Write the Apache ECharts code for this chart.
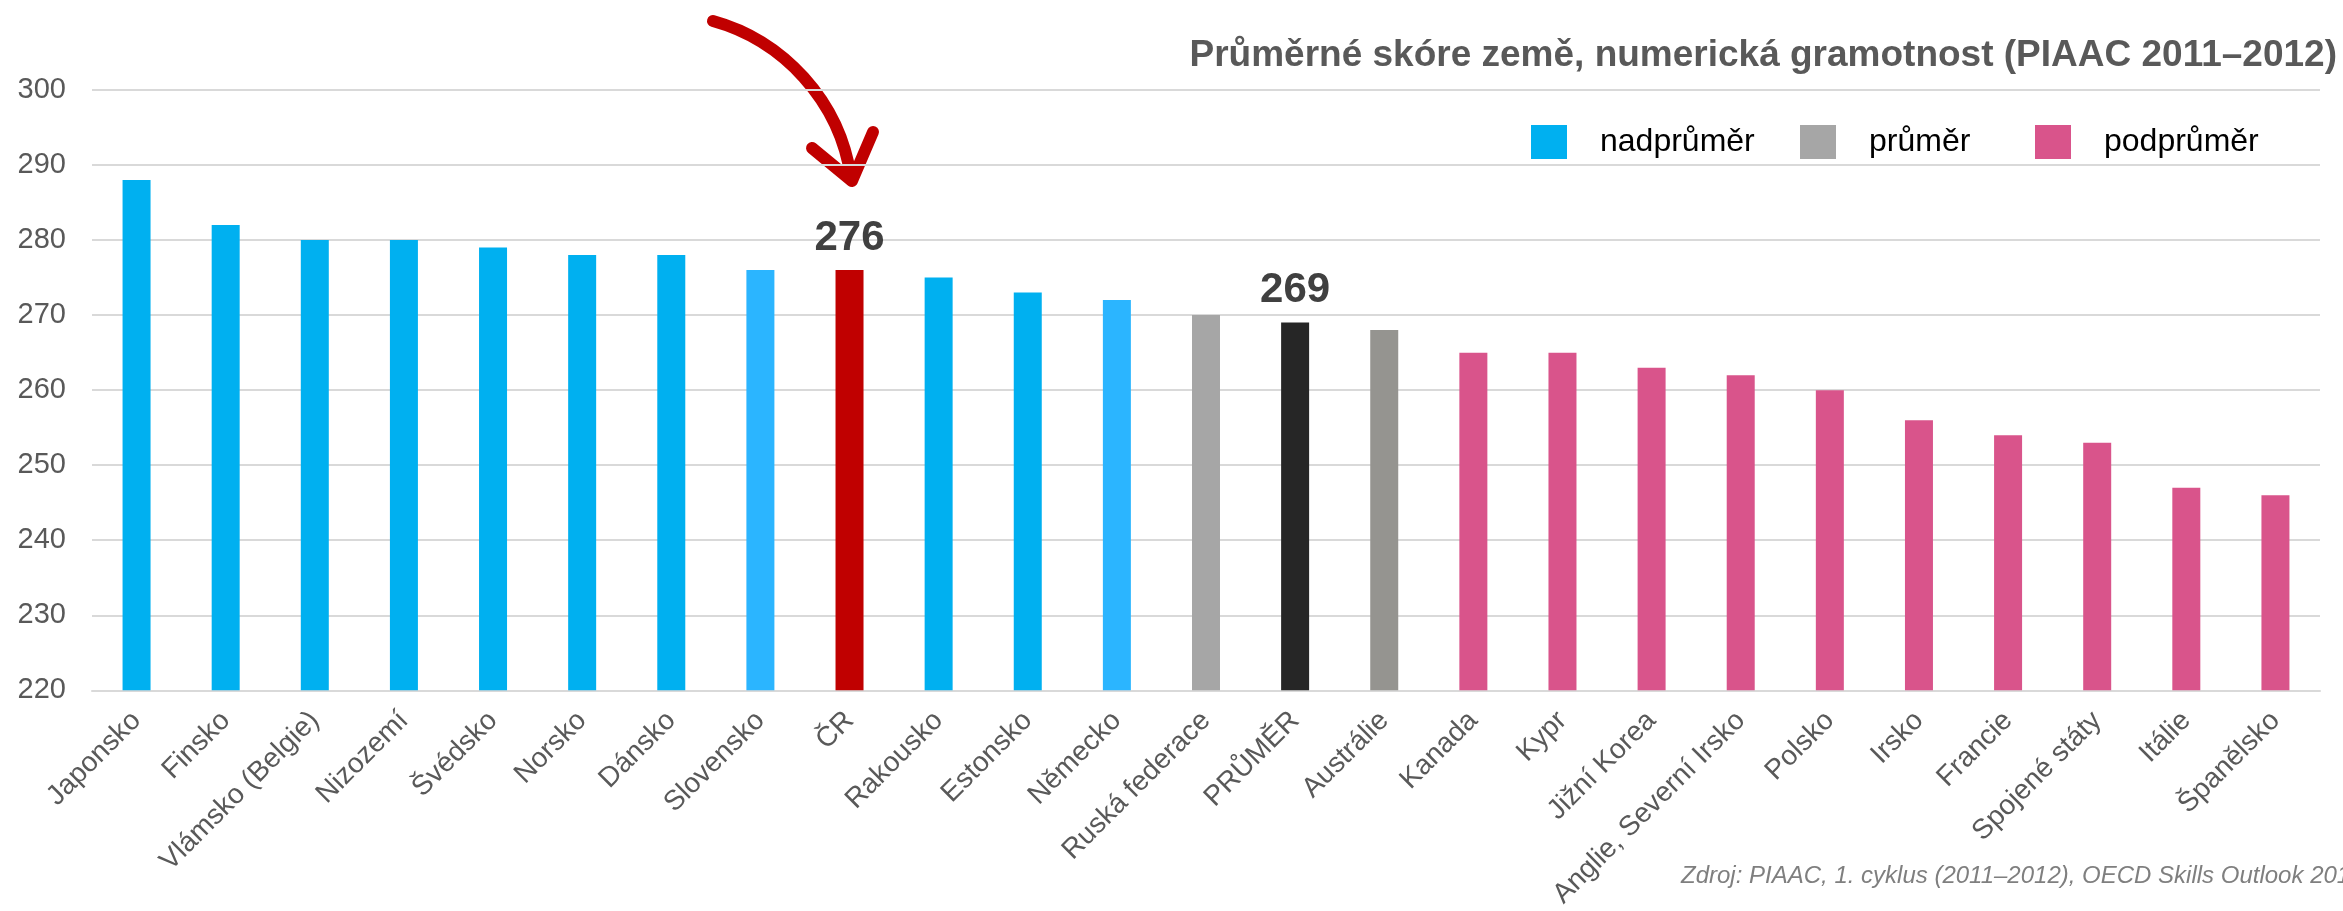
<!DOCTYPE html>
<html>
<head>
<meta charset="utf-8">
<script src="https://cdn.jsdelivr.net/npm/echarts@6/dist/echarts.min.js"></script>
<style>
  html, body { margin: 0; padding: 0; background: #fff; }
  #chart { width: 2343px; height: 911px; }
</style>
</head>
<body>
<div id="chart"></div>
<script>
const countries = [
  "Japonsko", "Finsko", "Vlámsko (Belgie)", "Nizozemí", "Švédsko", "Norsko",
  "Dánsko", "Slovensko", "ČR", "Rakousko", "Estonsko", "Německo",
  "Ruská federace", "PRŮMĚR", "Austrálie", "Kanada", "Kypr", "Jižní Korea",
  "Anglie, Severní Irsko", "Polsko", "Irsko", "Francie", "Spojené státy",
  "Itálie", "Španělsko"
];
const scores = [
  288, 282, 280, 280, 279, 278, 278, 276, 276, 275, 273, 272,
  270, 269, 268, 265, 265, 263, 262, 260, 256, 254, 253, 247, 246
];
// 0 = nadprůměr, 1 = průměr, 2 = podprůměr
const groups = [
  0, 0, 0, 0, 0, 0, 0, 0, 0, 0, 0, 0,
  1, 1, 1, 2, 2, 2, 2, 2, 2, 2, 2, 2, 2
];
const groupNames = ["nadprůměr", "průměr", "podprůměr"];
const labelled = ["ČR", "PRŮMĚR"];
const yTicks = { min: 220, max: 300, step: 10 };

const FONT = "'Liberation Sans', Arial, sans-serif";
const groupColors = ["#00B0F0", "#A6A6A6", "#D9548B"];
const specialColors = {
  "Slovensko": "#2BB5FF",
  "Německo": "#2BB5FF",
  "ČR": "#C00000",
  "PRŮMĚR": "#262626",
  "Austrálie": "#959490"
};

const chart = echarts.init(document.getElementById("chart"), null, { renderer: "canvas" });

const series = groupNames.map((name, g) => ({
  name,
  type: "bar",
  barWidth: 28,
  barGap: "-100%",
  color: groupColors[g],
  label: {
    show: false,
    position: "top",
    distance: 11,
    fontFamily: FONT,
    fontSize: 42,
    fontWeight: "bold",
    color: "#404040"
  },
  data: countries.map((c, i) => {
    if (groups[i] !== g) return "-";
    const item = { value: scores[i] };
    if (specialColors[c]) item.itemStyle = { color: specialColors[c] };
    if (labelled.includes(c)) item.label = { show: true };
    return item;
  })
}));

const legendLeft = [1531, 1800, 2035];
const legends = groupNames.map((name, g) => ({
  left: legendLeft[g],
  top: 125,
  padding: 0,
  itemWidth: 36,
  itemHeight: 34,
  icon: "rect",
  selectedMode: false,
  data: [name],
  textStyle: {
    fontFamily: FONT,
    fontSize: 32,
    color: "#000",
    padding: [0, 0, 0, 28]
  }
}));

const option = {
  backgroundColor: "#fff",
  animation: false,
  title: {
    text: "Průměrné skóre země, numerická gramotnost (PIAAC 2011–2012)",
    right: 6,
    top: 37,
    padding: 0,
    textStyle: {
      fontFamily: FONT,
      fontSize: 37,
      fontWeight: "bold",
      color: "#595959"
    }
  },
  legend: legends,
  grid: {
    left: 92,
    right: 23,
    top: 90,
    bottom: 216,
    containLabel: false
  },
  xAxis: {
    type: "category",
    data: countries,
    axisLine: { lineStyle: { color: "#D9D9D9", width: 2 } },
    axisTick: { show: false },
    axisLabel: {
      interval: 0,
      rotate: 45,
      margin: 26,
      fontFamily: FONT,
      fontSize: 28,
      color: "#595959"
    }
  },
  yAxis: {
    type: "value",
    min: yTicks.min,
    max: yTicks.max,
    interval: yTicks.step,
    axisLine: { show: false },
    axisTick: { show: false },
    splitLine: { lineStyle: { color: "#D9D9D9", width: 2 } },
    axisLabel: {
      margin: 26,
      fontFamily: FONT,
      fontSize: 29,
      color: "#595959"
    }
  },
  series,
  graphic: [
    {
      type: "bezierCurve",
      shape: { x1: 713, y1: 21, cpx1: 782, cpy1: 40, cpx2: 840, cpy2: 100, x2: 851, y2: 178 },
      style: { stroke: "#C00000", lineWidth: 12, lineCap: "round", fill: null }
    },
    {
      type: "polyline",
      shape: { points: [[812, 148], [852, 181], [873, 132]] },
      style: { stroke: "#C00000", lineWidth: 12, lineCap: "round", lineJoin: "round", fill: null }
    },
    {
      type: "text",
      left: 1681,
      top: 864,
      style: {
        text: "Zdroj: PIAAC, 1. cyklus (2011–2012), OECD Skills Outlook 2013",
        font: "italic 24px " + FONT,
        fill: "#7F7F7F"
      }
    }
  ]
};

chart.setOption(option);
window.addEventListener("resize", () => chart.resize());
</script>
</body>
</html>
